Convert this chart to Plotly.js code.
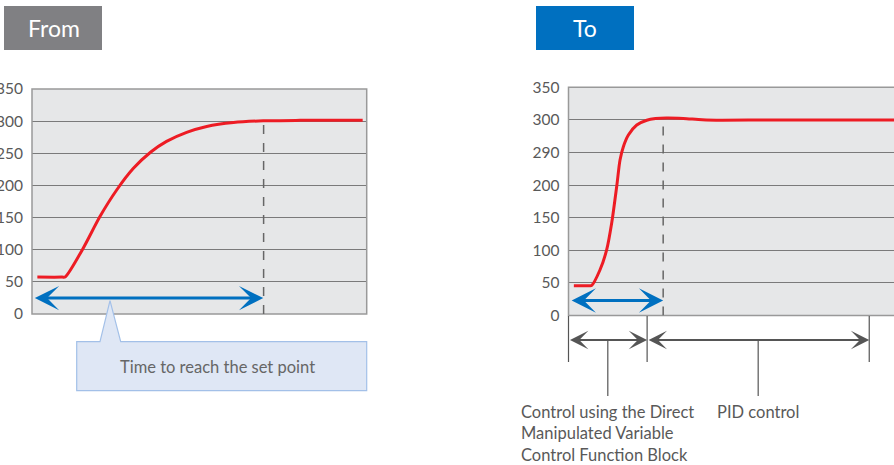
<!DOCTYPE html>
<html>
<head>
<meta charset="utf-8">
<script src="https://cdn.plot.ly/plotly-3.0.1.min.js"></script>
<style>
  html, body { margin: 0; padding: 0; background: #ffffff; overflow: hidden; }
  #chart { width: 894px; height: 465px; }
</style>
</head>
<body>
<div id="chart"></div>
<script>
// ---------- data ----------
const fromX = [1.6, 9.0, 9.9, 15.3, 20.3, 25.3, 30.3, 35.5, 40.2, 46.2, 52.2, 60.2, 69.1, 80.1, 98.8];
const fromY = [57.4, 57.4, 57.6, 102.4, 151.6, 192.9, 226.6, 252.0, 268.5, 282.6, 291.8, 297.9, 300.5, 301.2, 301.2];

const toX = [1.6, 6.2, 6.9, 9.4, 11.4, 12.9, 14.4, 15.4, 16.4, 17.9, 20.4, 23.4, 26.0, 29.3, 34.3, 40.0, 46.0, 60.0, 80.0, 97.3];
const toY = [45.7, 45.7, 45.9, 69.8, 100.5, 141.4, 197.5, 238.5, 258.9, 276.8, 292.2, 299.5, 302.0, 303.0, 302.3, 300.3, 299.6, 299.8, 300.0, 300.0];

const yTickVals = [0, 50, 100, 150, 200, 250, 300, 350];
const fromTickText = ['0', '50', '100', '150', '200', '250', '300', '350'];
const toTickText = ['0', '50', '100', '150', '200', '290', '300', '350'];

const fromSetPoint = { x: 69.2, y: 297 };
const fromArrow = { x0: 0.4, x1: 69.1, y: 24.8 };
const toSetPoint = { x: 28.3, y: 292 };
const toArrow = { x0: 0.5, x1: 28.3, y: 23 };

const phaseBounds = [0, 23.5, 89.9];
const phaseLabels = ['Control using the Direct<br>Manipulated Variable<br>Control Function Block', 'PID control'];
const calloutText = 'Time to reach the set point';

// ---------- helpers (layout only) ----------
const W = 894, H = 465;
const px = v => v / W;
const py = v => 1 - v / H;
const FONT = 'Lato, "Noto Sans", sans-serif';
const TXT = '#595959';
const RED = '#ed1c24';
const BLUE = '#0070c0';
const GRAY = '#555555';

const traces = [
  { x: fromX, y: fromY, xaxis: 'x', yaxis: 'y', type: 'scatter', mode: 'lines',
    line: { color: RED, width: 3, shape: 'spline', smoothing: 0.8 }, hoverinfo: 'skip' },
  { x: toX, y: toY, xaxis: 'x2', yaxis: 'y2', type: 'scatter', mode: 'lines',
    line: { color: RED, width: 3, shape: 'spline', smoothing: 0.8 }, hoverinfo: 'skip' }
];

const yCommon = {
  range: [0, 350], tickvals: yTickVals, showgrid: true, gridcolor: '#7a7a7a', gridwidth: 1,
  zeroline: false, showline: false, ticks: 'outside', ticklen: 5, tickcolor: 'rgba(0,0,0,0)',
  tickfont: { family: FONT, size: 15.5, color: TXT }, fixedrange: true
};
const xCommon = { showgrid: false, zeroline: false, showline: false, showticklabels: false, ticks: '', fixedrange: true };

const shapes = [];
const annotations = [];

// header boxes
shapes.push({ type: 'rect', xref: 'paper', yref: 'paper', x0: px(4), x1: px(102), y0: py(50), y1: py(6), fillcolor: '#808083', line: { width: 0 } });
shapes.push({ type: 'rect', xref: 'paper', yref: 'paper', x0: px(536), x1: px(634), y0: py(50), y1: py(6), fillcolor: BLUE, line: { width: 0 } });
annotations.push({ xref: 'paper', yref: 'paper', x: px(54), y: py(28), text: 'From', showarrow: false, xanchor: 'center', yanchor: 'middle', font: { family: FONT, size: 23, color: '#ffffff' } });
annotations.push({ xref: 'paper', yref: 'paper', x: px(585), y: py(28), text: 'To', showarrow: false, xanchor: 'center', yanchor: 'middle', font: { family: FONT, size: 23, color: '#ffffff' } });

// plot borders
shapes.push({ type: 'rect', xref: 'x domain', yref: 'y domain', x0: 0, x1: 1, y0: 0, y1: 1, line: { color: '#999999', width: 1.5 } });
shapes.push({ type: 'rect', xref: 'x2 domain', yref: 'y2 domain', x0: 0, x1: 1.2, y0: 0, y1: 1, line: { color: '#999999', width: 1.5 } });

// set point dashed lines
shapes.push({ type: 'line', xref: 'x', yref: 'y', x0: fromSetPoint.x, x1: fromSetPoint.x, y0: 0, y1: fromSetPoint.y, line: { color: '#666666', width: 1.5, dash: 'dash' } });
shapes.push({ type: 'line', xref: 'x2', yref: 'y2', x0: toSetPoint.x, x1: toSetPoint.x, y0: 0, y1: toSetPoint.y, line: { color: '#666666', width: 1.5, dash: 'dash' } });

// blue double arrows
annotations.push({ xref: 'x', yref: 'y', axref: 'x', ayref: 'y', x: fromArrow.x1, y: fromArrow.y, ax: fromArrow.x0, ay: fromArrow.y, text: '', showarrow: true,
  arrowside: 'end+start', arrowhead: 3, startarrowhead: 3, arrowsize: 1.35, startarrowsize: 1.35, arrowwidth: 3, arrowcolor: BLUE, standoff: 0, startstandoff: 0 });
annotations.push({ xref: 'x2', yref: 'y2', axref: 'x2', ayref: 'y2', x: toArrow.x1, y: toArrow.y, ax: toArrow.x0, ay: toArrow.y, text: '', showarrow: true,
  arrowside: 'end+start', arrowhead: 3, startarrowhead: 3, arrowsize: 1.35, startarrowsize: 1.35, arrowwidth: 3, arrowcolor: BLUE, standoff: 0, startstandoff: 0 });

// callout box
const cx0 = 76.7, cx1 = 366.7, cy0 = 341.7, cy1 = 390.7;
const calloutPath = 'M ' + px(cx0) + ',' + py(cy0) + ' L ' + px(100) + ',' + py(cy0) + ' L ' + px(110) + ',' + py(300.7) + ' L ' + px(120.7) + ',' + py(cy0) +
  ' L ' + px(cx1) + ',' + py(cy0) + ' L ' + px(cx1) + ',' + py(cy1) + ' L ' + px(cx0) + ',' + py(cy1) + ' Z';
shapes.push({ type: 'path', xref: 'paper', yref: 'paper', path: calloutPath, fillcolor: '#dfe7f5', line: { color: '#a3c0e8', width: 1.2 } });
annotations.push({ xref: 'paper', yref: 'paper', x: px(217), y: py(367), text: calloutText, showarrow: false, xanchor: 'center', yanchor: 'middle', font: { family: FONT, size: 16.5, color: '#666666' } });

// phase bounds below the right chart
const bTop = py(316), bBot = py(362), arrowYp = py(340), leadBot = py(396);
shapes.push({ type: 'line', xref: 'x2 domain', yref: 'paper', x0: 0, x1: 0, y0: bTop, y1: bBot, line: { color: GRAY, width: 1.2 } });
for (let i = 1; i < phaseBounds.length; i++) {
  shapes.push({ type: 'line', xref: 'x2', yref: 'paper', x0: phaseBounds[i], x1: phaseBounds[i], y0: bTop, y1: bBot, line: { color: GRAY, width: 1.2 } });
}
for (let i = 0; i < phaseBounds.length - 1; i++) {
  const a = phaseBounds[i], b = phaseBounds[i + 1], mid = (a + b) / 2;
  annotations.push({ xref: 'x2', yref: 'paper', axref: 'x2', ayref: 'pixel', x: b, y: arrowYp, ax: a, ay: 0, text: '', showarrow: true,
    arrowside: 'end+start', arrowhead: 3, startarrowhead: 3, arrowsize: 1.7, startarrowsize: 1.7, arrowwidth: 1.8, arrowcolor: GRAY, standoff: 0, startstandoff: 0 });
  shapes.push({ type: 'line', xref: 'x2', yref: 'paper', x0: mid, x1: mid, y0: arrowYp, y1: leadBot, line: { color: GRAY, width: 1.2 } });
  annotations.push({ xref: 'x2', yref: 'paper', x: mid, y: py(399.5), text: phaseLabels[i], showarrow: false, xanchor: 'center', yanchor: 'top', align: 'left',
    font: { family: FONT, size: 16.5, color: TXT } });
}

const layout = {
  width: W, height: H,
  margin: { l: 0, r: 0, t: 0, b: 0 },
  paper_bgcolor: '#ffffff', plot_bgcolor: '#e6e7e8',
  showlegend: false,
  xaxis: Object.assign({}, xCommon, { domain: [px(32), px(366.7)], range: [0, 100], anchor: 'y' }),
  yaxis: Object.assign({}, yCommon, { domain: [py(314), py(89)], ticktext: fromTickText, anchor: 'x' }),
  xaxis2: Object.assign({}, xCommon, { domain: [px(568.5), 1], range: [0, 97.3], anchor: 'y2' }),
  yaxis2: Object.assign({}, yCommon, { domain: [py(315.5), py(87.3)], ticktext: toTickText, anchor: 'x2' }),
  shapes: shapes,
  annotations: annotations
};

Plotly.newPlot('chart', traces, layout, { staticPlot: true, displayModeBar: false });
</script>
</body>
</html>
